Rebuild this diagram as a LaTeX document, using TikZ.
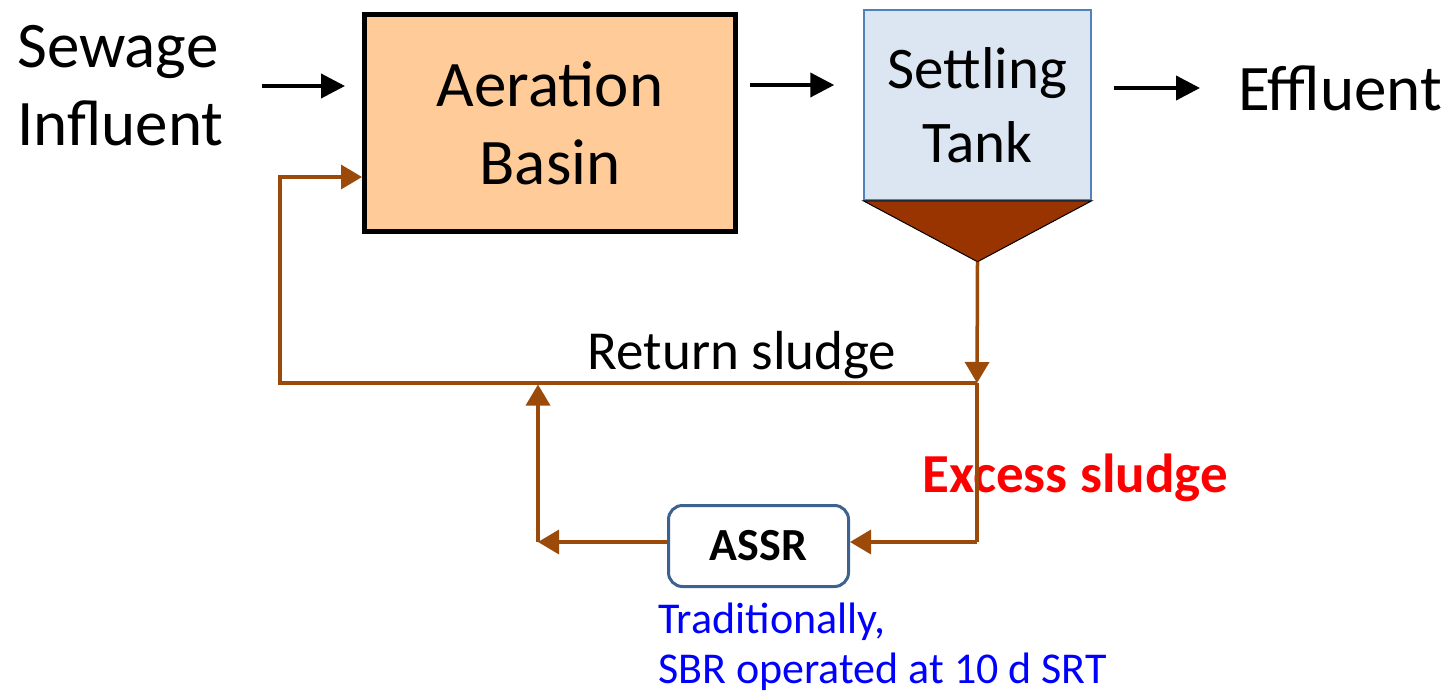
\documentclass[tikz,border=0pt]{standalone}
\usepackage{fontspec}
\setmainfont{Carlito}
\usetikzlibrary{arrows.meta,calc}
\definecolor{peach}{RGB}{255,204,153}
\definecolor{tankfill}{RGB}{220,230,242}
\definecolor{tankdraw}{RGB}{79,129,189}
\definecolor{assrdraw}{RGB}{62,98,144}
\definecolor{sludge}{RGB}{153,51,0}
\definecolor{brn}{RGB}{155,74,10}
\begin{document}
\begin{tikzpicture}[x=1pt,y=-1pt,
  bigtext/.style={font=\fontsize{65}{78}\selectfont, align=center, inner sep=0pt},
  aerbox/.style={draw=black, line width=5pt, fill=peach, bigtext},
  tankbox/.style={draw=tankdraw, line width=1.5pt, fill=tankfill, font=\fontsize{59}{74}\selectfont, align=center, inner sep=0pt},
  assrbox/.style={draw=assrdraw, line width=3pt, fill=white, rounded corners=14pt, font=\fontsize{46}{55}\selectfont\bfseries, inner sep=0pt},
  blk/.style={draw=black, line width=4pt, -{Triangle[length=24pt,width=24pt]}},
  brnline/.style={draw=brn, line width=3.5pt},
  brnarrow/.style={brnline, -{Triangle[length=21pt,width=24pt]}},
  lbl/.style={inner sep=0pt}
]
\useasboundingbox (0,0) rectangle (1447,693);

\node[bigtext, align=left, anchor=west] (sew) at (17,86) {Sewage\\Influent};
\node[aerbox, minimum width=371pt, minimum height=216pt] (aer) at (550,123) {Aeration\\Basin};
\node[tankbox, minimum width=227pt, minimum height=190pt] (st) at (977.5,105) {Settling\\Tank};
\node[bigtext, anchor=west] (eff) at (1238,88) {Effluent};

\coordinate (apex) at ($(st.south)+(0,-61pt)$);
\path[fill=sludge, draw=black, line width=1pt] (st.south west) -- (st.south east) -- (apex) -- cycle;

\node[assrbox, minimum width=180pt, minimum height=81pt] (assr) at (758.5,546) {ASSR};

\node[lbl, font=\fontsize{55}{66}\selectfont] (ret) at (742,355) {Return sludge};
\node[lbl, font=\fontsize{55}{66}\selectfont\bfseries, text=red] (exc) at (1075,478) {Excess sludge};
\node[lbl, font=\fontsize{44}{50}\selectfont, text=blue, align=left, anchor=north west] (note) at (658,603) {Traditionally,\\SBR operated at 10 d SRT};

% black flow arrows
\draw[blk, shorten <=38pt, shorten >=17pt] (sew.east) -- (sew.east -| aer.west);
\draw[blk, shorten <=12pt, shorten >=29pt] ([yshift=38pt]aer.east) -- ([yshift=38pt]aer.east -| st.west);
\draw[blk, shorten <=22pt, shorten >=38pt] ([yshift=17pt]st.east) -- ([yshift=17pt]st.east -| eff.west);

% sludge lines
\coordinate (j) at (977,383);
\coordinate (lc) at (280,383);
\coordinate (lt) at (280,177);
\coordinate (m) at (538,383);
\coordinate (e) at (977,542);
\coordinate (b) at (538,542);

\draw[brnarrow] (apex) -- (j);
\draw[brnarrow] (j) -- (lc) -- (lt) -- (lt -| aer.west);
\draw[brnline] (j) -- (e);
\draw[brnarrow] (e) -- (e -| assr.east);
\draw[brnarrow] (assr.west |- b) -- (b);
\draw[brnarrow] (b) -- ([yshift=-1.5pt]m);
\end{tikzpicture}
\end{document}
